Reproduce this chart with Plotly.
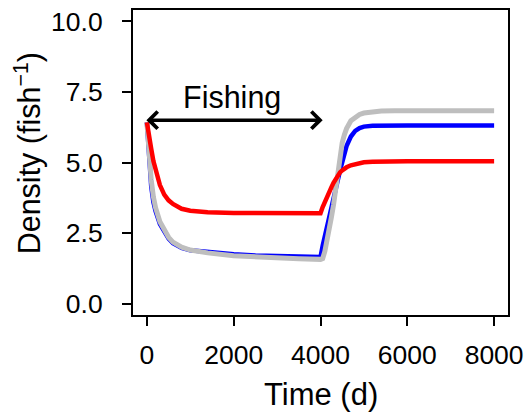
import plotly.graph_objects as go

# ---- data ----
time_d = [0, 25, 50, 75, 100, 150, 200, 300, 400, 500, 600, 800, 1000, 1400, 2000,
          2500, 3000, 3500, 4000, 4050, 4100, 4150, 4200, 4250, 4300, 4350, 4400,
          4450, 4500, 4550, 4600, 4700, 4800, 4900, 5000, 5200, 5400, 5700, 6000,
          7000, 8000]

red_density = [6.42, 6.12, 5.88, 5.66, 5.48, 5.05, 4.72, 4.20, 3.86, 3.66, 3.53, 3.36,
               3.29, 3.24, 3.21, 3.20, 3.20, 3.20, 3.20, 3.42, 3.62, 3.80, 3.96, 4.12,
               4.28, 4.43, 4.56, 4.65, 4.72, 4.78, 4.83, 4.90, 4.95, 4.99, 5.01, 5.03,
               5.04, 5.04, 5.04, 5.04, 5.04]

blue_density = [6.42, 5.70, 5.10, 4.55, 4.15, 3.60, 3.28, 2.82, 2.52, 2.30, 2.14, 1.98,
                1.89, 1.82, 1.75, 1.71, 1.68, 1.66, 1.65, 2.05, 2.40, 2.74, 3.03, 3.38,
                3.72, 4.05, 4.35, 4.72, 5.00, 5.32, 5.58, 5.92, 6.12, 6.22, 6.27, 6.30,
                6.31, 6.31, 6.31, 6.31, 6.31]

gray_density = [6.42, 5.85, 5.30, 4.80, 4.38, 3.78, 3.40, 2.90, 2.58, 2.35, 2.18, 2.00,
                1.90, 1.80, 1.70, 1.65, 1.61, 1.59, 1.57, 1.60, 1.85, 2.20, 2.60, 3.05,
                3.50, 4.10, 4.75, 5.30, 5.70, 5.98, 6.20, 6.48, 6.62, 6.70, 6.75, 6.80,
                6.82, 6.83, 6.83, 6.83, 6.83]

x_ticks = [0, 2000, 4000, 6000, 8000]
x_tick_labels = ["0", "2000", "4000", "6000", "8000"]
y_ticks = [0, 2.5, 5, 7.5, 10]
y_tick_labels = ["0.0", "2.5", "5.0", "7.5", "10.0"]

fishing_start = 0
fishing_end = 4000
fishing_label = "Fishing"

FONT = "Liberation Sans, Arial, sans-serif"

fig = go.Figure()
fig.add_trace(go.Scatter(x=time_d, y=blue_density, mode="lines",
                         line=dict(color="#0000FF", width=4.5), showlegend=False))
fig.add_trace(go.Scatter(x=time_d, y=gray_density, mode="lines",
                         line=dict(color="#BEBEBE", width=5), showlegend=False))
fig.add_trace(go.Scatter(x=time_d, y=red_density, mode="lines",
                         line=dict(color="#FF0000", width=4.5), showlegend=False))

# double-headed arrow for fishing period
fig.add_annotation(x=fishing_end + 50, y=6.5, ax=fishing_start - 46, ay=6.5,
                   xref="x", yref="y", axref="x", ayref="y", text="",
                   showarrow=True, arrowside="end+start", arrowhead=4,
                   startarrowhead=4, arrowwidth=3.5, arrowsize=0.95,
                   startarrowsize=0.95, arrowcolor="black")
fig.add_annotation(x=(fishing_start + fishing_end) / 2 - 50, y=7.31, xref="x", yref="y",
                   text=fishing_label, showarrow=False,
                   font=dict(family=FONT, size=30.5, color="black"))

# axis titles as annotations
fig.add_annotation(x=0.5, y=-0.262, xref="paper", yref="paper", text="Time (d)",
                   showarrow=False, xanchor="center", yanchor="middle",
                   font=dict(family=FONT, size=31, color="black"))
fig.add_annotation(x=-0.28, y=0.53, xref="paper", yref="paper",
                   text="Density (fish<sup>\u22121</sup>)", textangle=-90,
                   showarrow=False, xanchor="center", yanchor="middle",
                   font=dict(family=FONT, size=30.5, color="black"))

axis_common = dict(showgrid=False, zeroline=False, showline=True, mirror=True,
                   linecolor="black", linewidth=2, ticks="outside", ticklen=9,
                   tickwidth=2, tickcolor="black", automargin=False,
                   tickfont=dict(family=FONT, size=26.5, color="black"))

fig.update_xaxes(range=[-320, 8320], tickvals=x_ticks, ticktext=x_tick_labels,
                 ticklabelstandoff=6, **axis_common)
fig.update_yaxes(range=[-0.4, 10.4], tickvals=y_ticks, ticktext=y_tick_labels,
                 ticklabelstandoff=14, **axis_common)

fig.update_layout(width=524, height=412, margin=dict(l=133, r=16, t=10, b=97),
                  plot_bgcolor="white", paper_bgcolor="white",
                  font=dict(family=FONT, color="black"))

fig.write_html("out.html")
